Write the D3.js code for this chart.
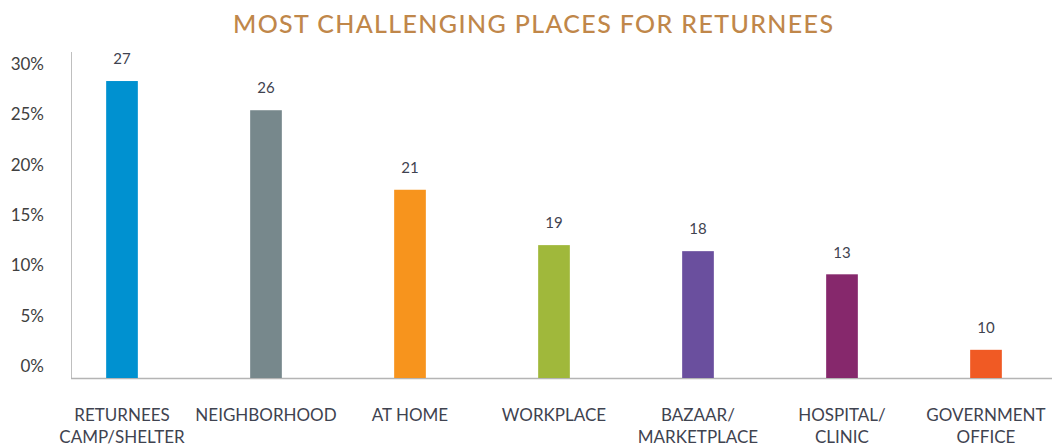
<!DOCTYPE html>
<html lang="en">
<head>
  <meta charset="utf-8">
  <title>Most Challenging Places for Returnees</title>
  <script src="https://cdn.jsdelivr.net/npm/d3@7"></script>
  <style>
    body { margin: 0; background: #fff; }
    .title { font-family: Lato, sans-serif; font-size: 25px; fill: #c0874a; font-weight: 500; }
    .tick-label { font-family: Lato, sans-serif; font-size: 17px; fill: #404040; }
    .cat-label { font-family: Lato, sans-serif; font-size: 17px; fill: #3f4350; }
    .val-label { font-family: Lato, sans-serif; font-size: 15px; fill: #3f4350; }
  </style>
</head>
<body>
<svg width="1052" height="447"></svg>
<script>
// categories (each label split in lines), bar heights (%), printed data labels
var categories = [
  ["RETURNEES", "CAMP/SHELTER"],
  ["NEIGHBORHOOD"],
  ["AT HOME"],
  ["WORKPLACE"],
  ["BAZAAR/", "MARKETPLACE"],
  ["HOSPITAL/", "CLINIC"],
  ["GOVERNMENT", "OFFICE"]
];
var barValues = [29.5, 26.6, 18.7, 13.2, 12.6, 10.3, 2.8];
var dataLabels = ["27", "26", "21", "19", "18", "13", "10"];
var colors = ["#0091d0", "#77888c", "#f7941d", "#a0b83b", "#6a4f9e", "#86286c", "#f05a24"];
var yTicks = [0, 5, 10, 15, 20, 25, 30];

var svg = d3.select("svg");

var x = d3.scaleBand()
    .domain(d3.range(categories.length))
    .range([50, 1058])
    .paddingInner(0.78)
    .paddingOuter(0.39);

var y = d3.scaleLinear().domain([0, 30]).range([378, 76]);

// title
svg.append("text")
    .attr("class", "title")
    .attr("x", 533)
    .attr("y", 33)
    .attr("text-anchor", "middle")
    .attr("textLength", 600)
    .attr("lengthAdjust", "spacing")
    .text("MOST CHALLENGING PLACES FOR RETURNEES");

// y axis labels (no gridlines)
svg.append("g").selectAll("text")
  .data(yTicks)
  .enter().append("text")
    .attr("class", "tick-label")
    .attr("x", 44)
    .attr("y", function(d) { return y(d) - 12; })
    .attr("dy", "0.35em")
    .attr("text-anchor", "end")
    .text(function(d) { return d + "%"; });

// axis lines
svg.append("line")
    .attr("x1", 71.5).attr("x2", 71.5)
    .attr("y1", 52).attr("y2", y(0))
    .attr("stroke", "#bfbfbf").attr("stroke-width", 1);

svg.append("line")
    .attr("x1", 71).attr("x2", 1052)
    .attr("y1", y(0) + 0.5).attr("y2", y(0) + 0.5)
    .attr("stroke", "#b4b4b4").attr("stroke-width", 1.5);

// bars
svg.append("g").selectAll("rect")
  .data(barValues)
  .enter().append("rect")
    .attr("x", function(d, i) { return x(i); })
    .attr("y", function(d) { return y(d); })
    .attr("width", x.bandwidth())
    .attr("height", function(d) { return y(0) - y(d); })
    .attr("fill", function(d, i) { return colors[i]; });

// value labels
svg.append("g").selectAll("text")
  .data(barValues)
  .enter().append("text")
    .attr("class", "val-label")
    .attr("x", function(d, i) { return x(i) + x.bandwidth() / 2; })
    .attr("y", function(d) { return y(d) - 22; })
    .attr("dy", "0.35em")
    .attr("text-anchor", "middle")
    .text(function(d, i) { return dataLabels[i]; });

// category labels
var cat = svg.append("g").selectAll("text")
  .data(categories)
  .enter().append("text")
    .attr("class", "cat-label")
    .attr("text-anchor", "middle")
    .attr("x", function(d, i) { return x(i) + x.bandwidth() / 2; })
    .attr("y", 415);

cat.selectAll("tspan")
  .data(function(d) { return d; })
  .enter().append("tspan")
    .attr("x", function() { return d3.select(this.parentNode).attr("x"); })
    .attr("dy", function(d, j) { return j === 0 ? "0.35em" : "22px"; })
    .text(function(d) { return d; });
</script>
</body>
</html>
